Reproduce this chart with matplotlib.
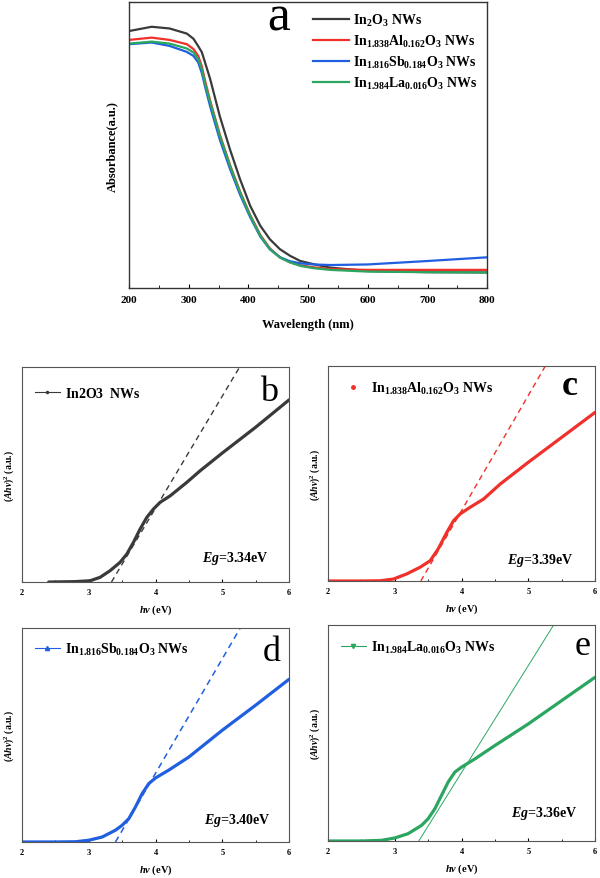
import numpy as np
import matplotlib
matplotlib.use("Agg")
import matplotlib.pyplot as plt
from matplotlib.lines import Line2D

plt.rcParams['font.family'] = ['Liberation Serif', 'DejaVu Serif']
plt.rcParams['font.weight'] = 'bold'
plt.rcParams['mathtext.fontset'] = 'custom'
plt.rcParams['mathtext.rm'] = 'Liberation Serif:bold'
plt.rcParams['mathtext.it'] = 'Liberation Serif:italic:bold'
plt.rcParams['mathtext.bf'] = 'Liberation Serif:bold'

# ---- Panel a: UV-vis absorbance
wl = [200, 238, 268, 297, 308, 316, 322, 328, 336, 352, 369, 386, 403, 420, 436, 453, 470, 487, 509, 537, 600, 700, 800]
abs_black = [0.899, 0.914, 0.908, 0.890, 0.872, 0.846, 0.825, 0.785, 0.731, 0.602, 0.486, 0.381, 0.288, 0.218, 0.171, 0.136, 0.113, 0.095, 0.084, 0.072, 0.060, 0.056, 0.055]
abs_al = [0.868, 0.876, 0.868, 0.853, 0.836, 0.812, 0.775, 0.72, 0.655, 0.538, 0.432, 0.338, 0.256, 0.186, 0.139, 0.108, 0.090, 0.080, 0.073, 0.067, 0.064, 0.064, 0.064]
abs_sb = [0.853, 0.859, 0.847, 0.826, 0.812, 0.789, 0.752, 0.70, 0.635, 0.520, 0.418, 0.327, 0.248, 0.180, 0.136, 0.108, 0.094, 0.087, 0.083, 0.081, 0.083, 0.095, 0.108]
abs_la = [0.855, 0.862, 0.855, 0.838, 0.824, 0.801, 0.765, 0.71, 0.649, 0.533, 0.428, 0.335, 0.253, 0.183, 0.136, 0.107, 0.090, 0.078, 0.070, 0.064, 0.058, 0.056, 0.055]

labels = [r'$\mathrm{In_2O_3\ NWs}$',
          r'$\mathrm{In_{1.838}Al_{0.162}O_3\ NWs}$',
          r'$\mathrm{In_{1.816}Sb_{0.184}O_3\ NWs}$',
          r'$\mathrm{In_{1.984}La_{0.016}O_3\ NWs}$']
colors = ['#3a3a3a', '#f0302a', '#1f5fe0', '#2aa660']

# ---- Panels b-e: Tauc plots
hv_b = [2.4, 2.8, 3.02, 3.17, 3.32, 3.47, 3.57, 3.67, 3.77, 3.87, 3.97, 4.07, 4.22, 4.47, 4.67, 5.0, 5.5, 6.0]
tauc_b = [0.0, 0.002, 0.006, 0.022, 0.053, 0.092, 0.130, 0.185, 0.247, 0.301, 0.340, 0.371, 0.401, 0.464, 0.518, 0.600, 0.720, 0.847]

hv_c = [2.0, 2.5, 2.78, 2.98, 3.18, 3.38, 3.53, 3.65, 3.78, 3.88, 3.98, 4.13, 4.33, 4.58, 5.0, 5.5, 6.0]
tauc_c = [0.0, 0.0, 0.001, 0.009, 0.033, 0.064, 0.094, 0.149, 0.226, 0.280, 0.312, 0.343, 0.381, 0.451, 0.552, 0.668, 0.784]

hv_d = [2.0, 2.5, 2.8, 3.0, 3.2, 3.4, 3.5, 3.6, 3.7, 3.8, 3.9, 4.0, 4.2, 4.5, 5.0, 5.5, 6.0]
tauc_d = [0.0, 0.0, 0.001, 0.008, 0.023, 0.055, 0.078, 0.109, 0.164, 0.226, 0.273, 0.299, 0.336, 0.397, 0.522, 0.639, 0.760]

hv_e = [2.0, 2.5, 2.8, 3.0, 3.2, 3.4, 3.5, 3.6, 3.7, 3.8, 3.9, 4.0, 4.2, 4.5, 5.0, 5.5, 6.0]
tauc_e = [0.0, 0.0, 0.003, 0.014, 0.034, 0.072, 0.103, 0.149, 0.211, 0.273, 0.319, 0.342, 0.380, 0.442, 0.542, 0.650, 0.758]

eg_values = [3.34, 3.39, 3.40, 3.36]
fit_top = [5.26, 5.256, 5.27, 5.38]   # hv where the tangent leaves the top of the frame
panel_letters = ['b', 'c', 'd', 'e']
tauc_labels = [r'$\mathrm{In2O3\ \ NWs}$', labels[1], labels[2], labels[3]]

fig = plt.figure(figsize=(6, 8.79), dpi=100)

# Panel a
ax = fig.add_axes([0.215, 0.671, 0.597, 0.3254])
ax.plot(wl, abs_black, color=colors[0], lw=1.6, label=labels[0])
ax.plot(wl, abs_al, color=colors[1], lw=1.6, label=labels[1])
ax.plot(wl, abs_sb, color=colors[2], lw=1.6, label=labels[2])
ax.plot(wl, abs_la, color=colors[3], lw=1.6, label=labels[3])
ax.set_xlim(200, 800)
ax.set_ylim(0, 1)
ax.set_yticks([])
ax.set_xticks([200, 300, 400, 500, 600, 700, 800])
ax.set_xticks(np.arange(250, 800, 100), minor=True)
ax.tick_params(axis='x', which='both', direction='in', labelsize=8, pad=5)
ax.tick_params(axis='x', which='major', length=3)
ax.tick_params(axis='x', which='minor', length=2)
for s in ax.spines.values():
    s.set_linewidth(1.0)
    s.set_color('#333333')
ax.set_xlabel('Wavelength (nm)', fontsize=9, fontweight='bold', labelpad=10)
ax.set_ylabel('Absorbance(a.u.)', fontsize=9, fontweight='bold', labelpad=8)
ax.legend(loc='upper right', frameon=False, fontsize=10, handlelength=2.6,
          handletextpad=0.3, labelspacing=0.35, borderaxespad=0.3)
ax.text(0.419, 0.906, 'a', transform=ax.transAxes, fontsize=37, fontweight='normal',
        ha='center', va='baseline')

# Panels b-e
positions = [[0.0367, 0.3367, 0.445, 0.2446],
             [0.5467, 0.3379, 0.445, 0.2446],
             [0.0367, 0.041, 0.445, 0.2435],
             [0.5467, 0.0421, 0.445, 0.2457]]
hv_sets = [hv_b, hv_c, hv_d, hv_e]
tauc_sets = [tauc_b, tauc_c, tauc_d, tauc_e]
fit_styles = [(0, (4, 3)), (0, (4, 3)), (0, (4, 3)), '-']
fit_widths = [1.0, 1.0, 1.1, 0.7]
markers = ['.', '.', '^', 'v']
letter_x = [0.925, 0.906, 0.936, 0.955]
letter_y = [0.847, 0.87, 0.85, 0.866]
eg_x = [0.925, 0.92, 0.929, 0.933]
eg_y = [0.116, 0.10, 0.107, 0.134]
leg_y = [0.88, 0.90, 0.90, 0.90]

for i in range(4):
    ax = fig.add_axes(positions[i])
    c = colors[i]
    ax.plot(hv_sets[i], tauc_sets[i], color=c, lw=2.3, solid_capstyle='round',
            solid_joinstyle='round')
    ax.plot([eg_values[i], fit_top[i]], [0, 1], color=c, lw=fit_widths[i],
            linestyle=fit_styles[i])
    ax.set_xlim(2, 6)
    ax.set_ylim(0, 1)
    ax.set_yticks([])
    ax.set_xticks([2, 3, 4, 5, 6])
    ax.set_xticks([2.5, 3.5, 4.5, 5.5], minor=True)
    ax.tick_params(axis='x', which='both', direction='in', labelsize=6, pad=4)
    ax.tick_params(axis='x', which='major', length=2.5)
    ax.tick_params(axis='x', which='minor', length=1.5)
    for s in ax.spines.values():
        s.set_linewidth(0.8)
        s.set_color('#555555')
    ax.set_xlabel(r'$hv$ (eV)', fontsize=7.5, fontweight='bold', labelpad=5)
    ax.set_ylabel(r'$(Ahv)^2$ (a.u.)', fontsize=7, fontweight='bold', labelpad=4)
    if i == 1:
        handle = Line2D([], [], color=c, lw=0, marker='.', markersize=5)
    else:
        handle = Line2D([], [], color=c, lw=0.8, marker=markers[i], markersize=3)
    ax.legend([handle], [tauc_labels[i]], loc='center left',
              bbox_to_anchor=(0.0, leg_y[i]), frameon=False,
              fontsize=10, handlelength=1.8, handletextpad=0.4)
    ax.text(letter_x[i], letter_y[i], panel_letters[i], transform=ax.transAxes,
            fontsize=26, fontweight='bold' if i == 1 else 'normal',
            ha='center', va='baseline')
    ax.text(eg_x[i], eg_y[i], r'$Eg$=%.2feV' % eg_values[i], transform=ax.transAxes,
            fontsize=10, fontweight='bold', ha='right', va='center')

fig.savefig('out.png', dpi=100)
